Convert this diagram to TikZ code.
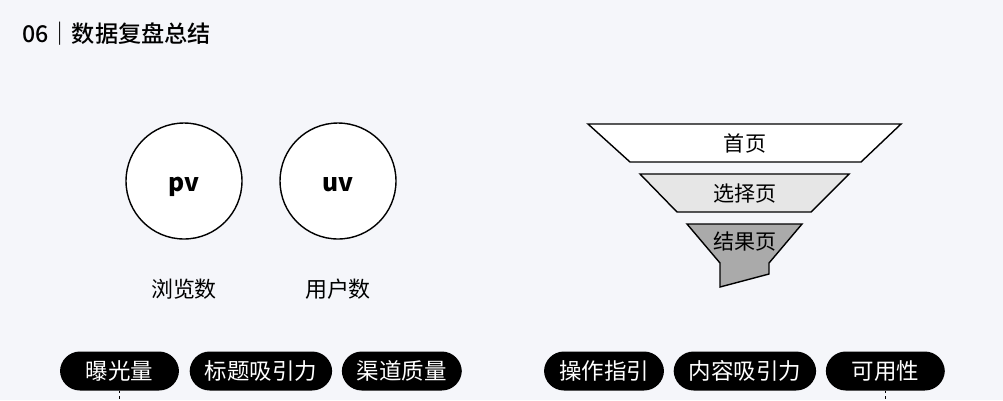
\documentclass[tikz,border=0pt]{standalone}
\usepackage{fontspec}
\setmainfont{Noto Sans CJK SC}
\newfontfamily\headfont{Noto Sans CJK SC Medium}
\newfontfamily\heavyfont{Noto Sans CJK SC Black}
\usetikzlibrary{positioning}
\definecolor{pagebg}{RGB}{245,246,250}
\definecolor{inkblack}{RGB}{0,0,0}
\definecolor{stagegray}{RGB}{230,230,230}
\definecolor{stagedark}{RGB}{170,170,170}

\begin{document}
\begin{tikzpicture}[
    x=0.02cm, y=-0.02cm,
    metric/.style={circle, draw=inkblack, line width=0.8pt, fill=white, minimum size=2.32cm, text height=11.4pt, text depth=0pt, font=\fontsize{14}{16}\heavyfont},
    caption/.style={font=\fontsize{12.5}{15}\selectfont, text=inkblack},
    stage/.style={draw=inkblack, line width=0.8pt},
    stagetext/.style={font=\fontsize{12}{14}\selectfont, text=inkblack},
    pill/.style={rectangle, rounded corners=0.4cm, fill=inkblack, text=white, minimum height=0.78cm, minimum width=2.38cm, inner xsep=0.3cm, font=\fontsize{12.8}{15}\selectfont},
    link/.style={draw=inkblack, line width=0.9pt, dash pattern=on 1.5pt off 1.5pt}
]
\fill[pagebg] (0,0) rectangle (1003,400);
\useasboundingbox (0,0) rectangle (1003,400);

% title
\node[anchor=west, inner sep=0pt, font=\fontsize{13.2}{16}\headfont] (title) at (22,34) {06｜数据复盘总结};

% pv / uv
\node[metric] (pv) at (184,181) {pv};
\node[metric] (uv) at (338,181) {uv};
\node[caption] (pvlabel) at (184,289) {浏览数};
\node[caption] (uvlabel) at (338,289) {用户数};

% funnel
\draw[stage, fill=white] (588,124) -- (901,124) -- (861,162) -- (630,162) -- cycle;
\draw[stage, fill=stagegray] (640,174) -- (849,174) -- (811,212) -- (677,212) -- cycle;
\draw[stage, fill=stagedark] (687,224) -- (802,224) -- (769,263) -- (769,274) -- (720,287) -- (720,263) -- cycle;
\node[stagetext] (home) at (745,143) {首页};
\node[stagetext] (choose) at (745,194) {选择页};
\node[stagetext] (result) at (745,241) {结果页};

% left pills
\node[pill] (exposure) at (119.5,371) {曝光量};
\node[pill, right=0.2cm of exposure] (headline) {标题吸引力};
\node[pill, right=0.18cm of headline] (channel) {渠道质量};

% right pills
\node[pill] (guide) at (604,371) {操作指引};
\node[pill, right=0.18cm of guide] (content) {内容吸引力};
\node[pill, right=0.18cm of content] (usable) {可用性};

\coordinate (exposureend) at (119.5,400);
\coordinate (usableend) at (usable.south |- 0,400);
\draw[link] (exposure.south) -- (exposureend);
\draw[link] (usable.south) -- (usableend);
\end{tikzpicture}
\end{document}
